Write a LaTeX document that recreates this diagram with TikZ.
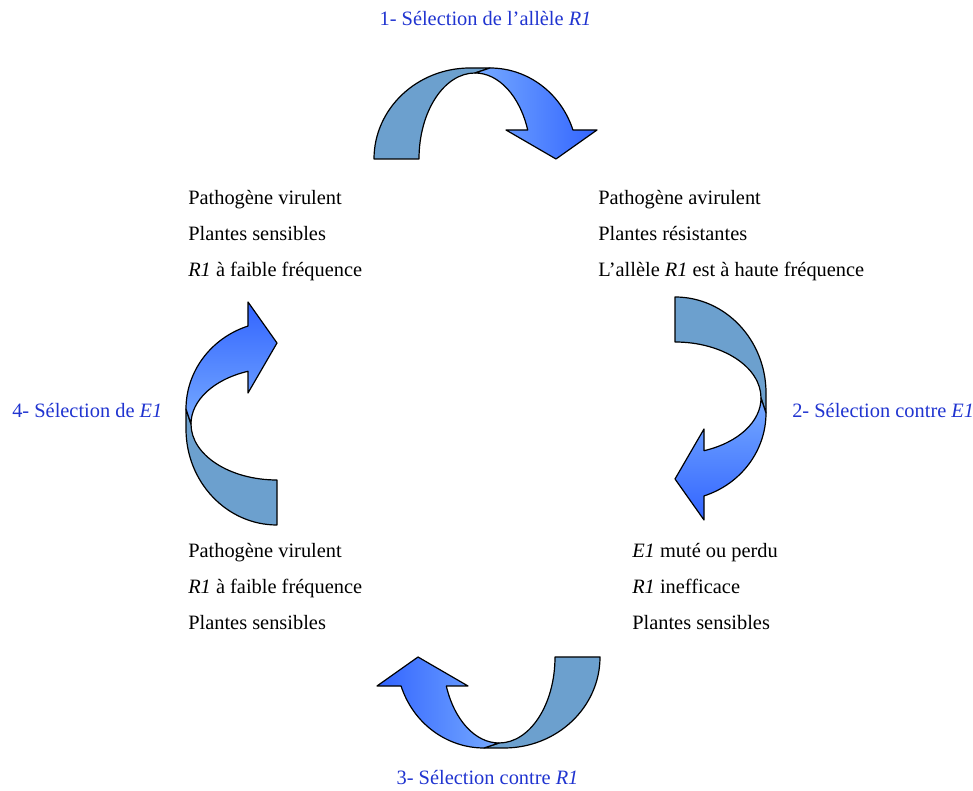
\documentclass[tikz,border=0pt]{standalone}
\usepackage{fontspec}
\setmainfont{Liberation Serif}
\definecolor{lblue}{RGB}{32,52,208}
\definecolor{backcol}{RGB}{108,160,206}
\definecolor{arrlight}{RGB}{118,170,255}
\definecolor{arrdark}{RGB}{50,100,255}
\tikzset{
  outl/.style={draw=black, line width=0.9pt, line join=round},
  frontshade/.style={left color=arrlight, right color=arrdark},
  curvarr/.pic={
    \path[outl, fill=backcol] (-101,0)
      arc[start angle=180, end angle=90, x radius=96, y radius=91]
      -- (15,91) -- (0,86)
      arc[start angle=90, end angle=180, x radius=56, y radius=86] -- cycle;
    \path[outl, frontshade] (15,91)
      arc[start angle=90, end angle=18.6, x radius=87.5, y radius=91]
      -- (122,29) -- (81,0) -- (31,29) -- (52.7,29)
      arc[start angle=19.7, end angle=90, x radius=56, y radius=86] -- cycle;
  }
}
\begin{document}
\begin{tikzpicture}[x=0.75pt,y=0.75pt,
  txt/.style={anchor=base west, inner sep=0pt, font=\fontsize{15.3}{18}\selectfont},
  lbl/.style={txt, text=lblue}]
\useasboundingbox (0,0) rectangle (973,791);
% arrows
\pic at (475,632) {curvarr};
\pic[rotate=-90, frontshade/.style={top color=arrlight, bottom color=arrdark}] at (675,393) {curvarr};
\pic[rotate=180, frontshade/.style={left color=arrdark, right color=arrlight}] at (499,134) {curvarr};
\pic[rotate=90, frontshade/.style={top color=arrdark, bottom color=arrlight}] at (277,367) {curvarr};
% labels
\node[lbl, anchor=base] (l1) at (485.5,765) {1- Sélection de l’allèle \textit{R1}};
\node[lbl] (l2) at (792,373) {2- Sélection contre \textit{E1}};
\node[lbl, anchor=base] (l3) at (487.5,6) {3- Sélection contre \textit{R1}};
\node[lbl] (l4) at (12,373) {4- Sélection de \textit{E1}};
% top-left
\node[txt] (tl1) at (188,586) {Pathogène virulent};
\node[txt] (tl2) at (188,550) {Plantes sensibles};
\node[txt] (tl3) at (188,514) {\textit{R1} à faible fréquence};
% top-right
\node[txt] (tr1) at (598,586) {Pathogène avirulent};
\node[txt] (tr2) at (598,550) {Plantes résistantes};
\node[txt] (tr3) at (598,514) {L’allèle \textit{R1} est à haute fréquence};
% bottom-left
\node[txt] (bl1) at (188,233) {Pathogène virulent};
\node[txt] (bl2) at (188,197) {\textit{R1} à faible fréquence};
\node[txt] (bl3) at (188,161) {Plantes sensibles};
% bottom-right
\node[txt] (br1) at (632,233) {\textit{E1} muté ou perdu};
\node[txt] (br2) at (632,197) {\textit{R1} inefficace};
\node[txt] (br3) at (632,161) {Plantes sensibles};
\end{tikzpicture}
\end{document}
